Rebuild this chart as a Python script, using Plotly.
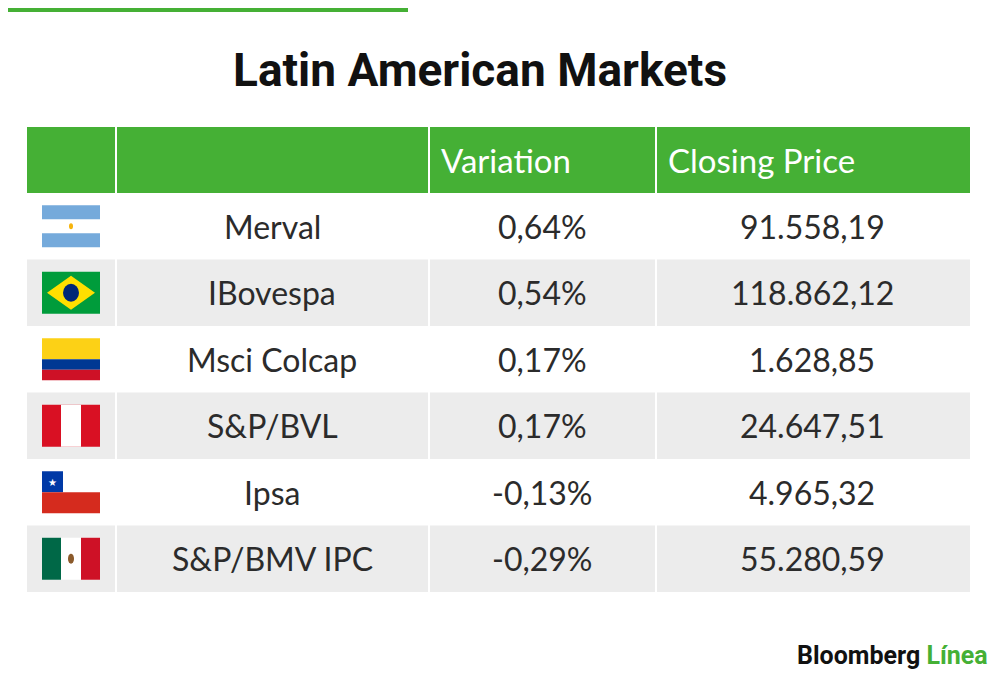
import plotly.graph_objects as go

title = "Latin American Markets"
headers = ["", "", "Variation", "Closing Price"]
countries = ["AR", "BR", "CO", "PE", "CL", "MX"]
indices = ["Merval", "IBovespa", "Msci Colcap", "S&P/BVL", "Ipsa", "S&P/BMV IPC"]
variation = ["0,64%", "0,54%", "0,17%", "0,17%", "-0,13%", "-0,29%"]
closing = ["91.558,19", "118.862,12", "1.628,85", "24.647,51", "4.965,32", "55.280,59"]

GREEN = "#45b035"
GREY = "#ececec"
TXT = "#2b2b2b"
FONT = "Lato, Roboto, sans-serif"

fig = go.Figure()
shapes = []
ann = []

def rect(x0, y0, x1, y1, color, kind="rect"):
    shapes.append(dict(type=kind, x0=x0, y0=y0, x1=x1, y1=y1, fillcolor=color,
                       line=dict(width=0), layer="below", xref="x", yref="y"))

# top green bar
rect(0, 0, 408, 12, GREEN)

left, right = 27, 970
cols = [27, 116, 429, 656, 970]
top, hh, rh = 127, 66, 66.5

# header
rect(left, top, right, top + hh, GREEN)
for i, h in enumerate(headers):
    if h:
        ann.append(dict(x=cols[i] + 10, y=top + hh / 2, text=h, xanchor="left",
                        font=dict(size=33, color="white", family=FONT)))

for r, name in enumerate(indices):
    y0 = top + hh + r * rh
    y1 = y0 + rh
    if r % 2 == 1:
        rect(left, y0, right, y1, GREY)
    yc = (y0 + y1) / 2
    ann.append(dict(x=272, y=yc, text=name, font=dict(size=32, color=TXT, family=FONT)))
    ann.append(dict(x=542, y=yc, text=variation[r], font=dict(size=32, color=TXT, family=FONT)))
    ann.append(dict(x=812, y=yc, text=closing[r], font=dict(size=32, color=TXT, family=FONT)))

    # flags
    fx0, fx1 = 42, 100
    fy0, fy1 = yc - 21, yc + 21
    c = countries[r]
    if c == "AR":
        rect(fx0, fy0, fx1, fy1, "#75aadb")
        rect(fx0, fy0 + 14, fx1, fy1 - 14, "white")
        rect(69, yc - 3, 73, yc + 3, "#f6b40e", "circle")
    elif c == "BR":
        rect(fx0, fy0, fx1, fy1, "#009c3b")
        shapes.append(dict(type="path", path=f"M {fx0+5},{yc} L 71,{fy0+4} L {fx1-5},{yc} L 71,{fy1-4} Z",
                           fillcolor="#ffdf00", line=dict(width=0), layer="below"))
        rect(63, yc - 9, 79, yc + 9, "#002776", "circle")
    elif c == "CO":
        rect(fx0, fy0, fx1, yc, "#fcd116")
        rect(fx0, yc, fx1, yc + 10.5, "#003893")
        rect(fx0, yc + 10.5, fx1, fy1, "#ce1126")
    elif c == "PE":
        rect(fx0, fy0, fx1, fy1, "#d91023")
        rect(fx0 + 19, fy0, fx1 - 19, fy1, "white")
    elif c == "CL":
        rect(fx0, fy0, fx1, yc, "white")
        rect(fx0, fy0, fx0 + 21, yc, "#0039a6")
        rect(fx0, yc, fx1, fy1, "#d52b1e")
        ann.append(dict(x=fx0 + 10.5, y=yc - 10.5, text="★", font=dict(size=10, color="white")))
    elif c == "MX":
        rect(fx0, fy0, fx1, fy1, "white")
        rect(fx0, fy0, fx0 + 19, fy1, "#006847")
        rect(fx1 - 19, fy0, fx1, fy1, "#ce1126")
        rect(68, yc - 5, 74, yc + 5, "#8b5a2b", "circle")

# white column separators
for x in cols[1:-1]:
    shapes.append(dict(type="line", x0=x, x1=x, y0=top, y1=top + hh + 6 * rh,
                       line=dict(color="white", width=2)))

ann.append(dict(x=480, y=70, text="<b>" + title + "</b>",
                font=dict(size=46, color="#111", family="Roboto, sans-serif")))
ann.append(dict(x=990, y=655, xanchor="right",
                text="<b>Bloomberg <span style='color:#45b035'>Línea</span></b>",
                font=dict(size=25, color="#111", family="Roboto, sans-serif")))

for a in ann:
    a.setdefault("showarrow", False)
    a.setdefault("xref", "x")
    a.setdefault("yref", "y")

# page has an 8px body margin, so map axis units straight to page pixels
fig.update_layout(
    width=984, height=662, margin=dict(l=0, r=0, t=0, b=0),
    paper_bgcolor="white", plot_bgcolor="white",
    xaxis=dict(range=[8, 992], visible=False, fixedrange=True),
    yaxis=dict(range=[670, 8], visible=False, fixedrange=True),
    shapes=shapes, annotations=ann, showlegend=False,
)
fig.write_html("out.html")
